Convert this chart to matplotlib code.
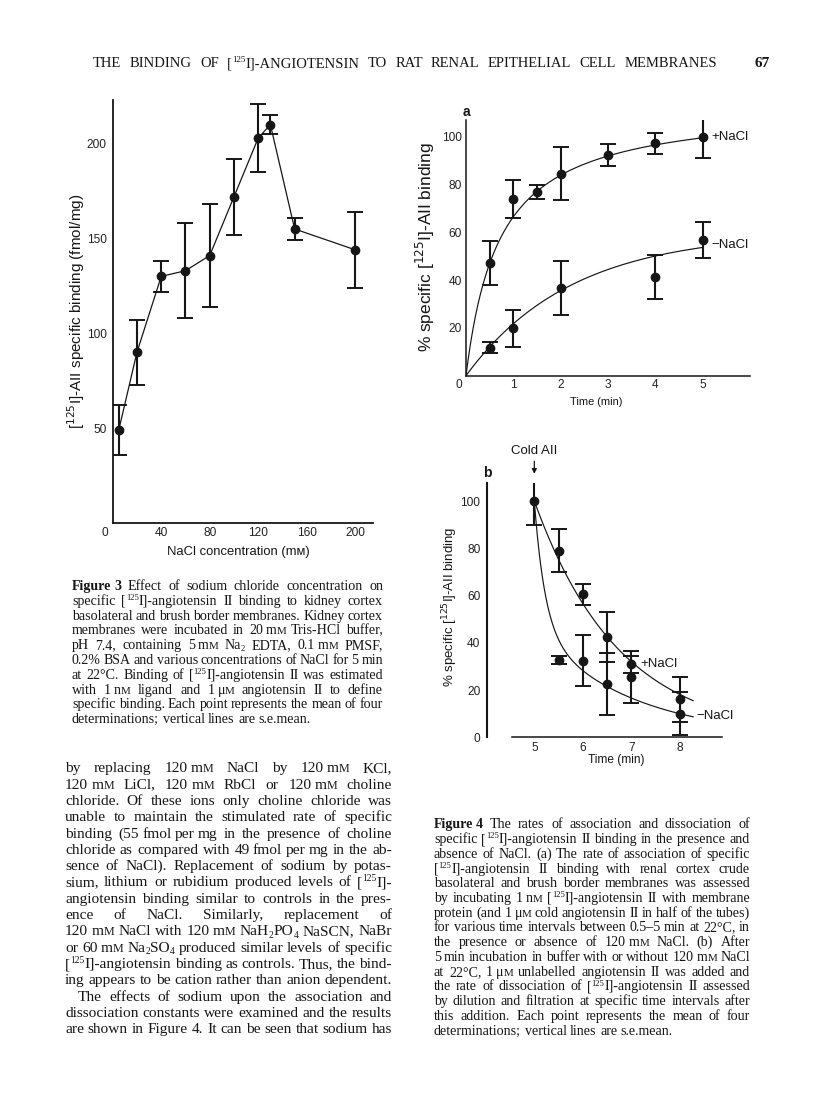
import re
import numpy as np
import matplotlib
matplotlib.use("Agg")
import matplotlib.pyplot as plt

# ---------------- data ----------------
# Figure 3: specific binding vs NaCl concentration
nacl_mM = [5, 20, 40, 60, 80, 100, 120, 130, 150, 200]
spec_binding = [49, 90, 130, 133, 141, 172, 203, 210, 155, 144]
spec_binding_sem = [13, 17, 8, 25, 27, 20, 18, 5, 6, 20]
fig3_xticks = [40, 80, 120, 160, 200]
fig3_yticks = [50, 100, 150, 200]

# Figure 4a: association
assoc_t_plus = [0.5, 1, 1.5, 2, 3, 4, 5]
assoc_plus = [47, 74, 77, 84.5, 92.3, 97.2, 100]
assoc_plus_sem = [9.2, 7.8, 3.0, 11.0, 4.7, 4.5, 9.0]
assoc_t_minus = [0.5, 1, 2, 4, 5]
assoc_minus = [11.7, 19.8, 36.6, 41.4, 56.8]
assoc_minus_sem = [2.4, 7.9, 11.3, 9.2, 7.6]
fig4a_xticks = [1, 2, 3, 4, 5]
fig4a_yticks = [20, 40, 60, 80, 100]

# Figure 4b: dissociation
diss_t_plus = [5, 5.5, 6, 6.5, 7, 8]
diss_plus = [100, 79, 60.5, 42.5, 31, 16]
diss_plus_sem = [10, 9, 4.5, 10.5, 3.6, 9.5]
diss_t_minus = [5.5, 6, 6.5, 7, 8]
diss_minus = [32.7, 32.5, 22.6, 25.7, 10]
diss_minus_sem = [1.7, 10.6, 13.2, 11, 9]
fig4b_xticks = [5, 6, 7, 8]
fig4b_yticks = [0, 20, 40, 60, 80, 100]

# fitted-curve parameters (as drawn in the original)
fit_assoc_plus = dict(bmax=113.7, kd=0.71)     # hyperbolic
fit_assoc_minus = dict(bmax=60.0, k=0.45)      # mono-exponential
fit_diss_plus = dict(k=0.57)                   # mono-exponential decay
fit_diss_minus = dict(a_fast=54.0, k_fast=4.5, a_slow=46.0, k_slow=0.51)

# ---------------- text ----------------
# markup: @word = bold, ~ = thin fixed space, {M} = small-capital M,
#         ^{..} = superscript, _{..} = subscript
header = "THE BINDING OF [^{125}I]-ANGIOTENSIN TO RAT RENAL EPITHELIAL CELL MEMBRANES"
page_no = "67"

caption3 = [
    "@Figure~3 Effect of sodium chloride concentration on",
    "specific [^{125}I]-angiotensin II binding to kidney cortex",
    "basolateral and brush border membranes. Kidney cortex",
    "membranes were incubated in 20~m{M} Tris-HCl buffer,",
    "pH 7.4, containing 5~m{M} Na_{2} EDTA, 0.1~m{M} PMSF,",
    "0.2% BSA and various concentrations of NaCl for 5~min",
    "at 22°C. Binding of [^{125}I]-angiotensin II was estimated",
    "with 1~n{M} ligand and 1~μ{M} angiotensin II to define",
    "specific binding. Each point represents the mean of four",
    "determinations; vertical lines are s.e.mean.",
]

body = [
    "by replacing 120~m{M} NaCl by 120~m{M} KCl,",
    "120~m{M} LiCl, 120~m{M} RbCl or 120~m{M} choline",
    "chloride. Of these ions only choline chloride was",
    "unable to maintain the stimulated rate of specific",
    "binding (55~fmol~per~mg in the presence of choline",
    "chloride as compared with 49~fmol~per~mg in the ab-",
    "sence of NaCl). Replacement of sodium by potas-",
    "sium, lithium or rubidium produced levels of [^{125}I]-",
    "angiotensin binding similar to controls in the pres-",
    "ence of NaCl. Similarly, replacement of",
    "120~m{M} NaCl with 120~m{M} NaH_{2}PO_{4} NaSCN, NaBr",
    "or 60~m{M} Na_{2}SO_{4} produced similar levels of specific",
    "[^{125}I]-angiotensin binding as controls. Thus, the bind-",
    "ing appears to be cation rather than anion dependent.",
    "The effects of sodium upon the association and",
    "dissociation constants were examined and the results",
    "are shown in Figure 4. It can be seen that sodium has",
]

caption4 = [
    "@Figure~4 The rates of association and dissociation of",
    "specific [^{125}I]-angiotensin II binding in the presence and",
    "absence of NaCl. (a) The rate of association of specific",
    "[^{125}I]-angiotensin II binding with renal cortex crude",
    "basolateral and brush border membranes was assessed",
    "by incubating 1~n{M} [^{125}I]-angiotensin II with membrane",
    "protein (and 1~μ{M} cold angiotensin II in half of the tubes)",
    "for various time intervals between 0.5–5~min at 22°C, in",
    "the presence or absence of 120~m{M} NaCl. (b) After",
    "5~min incubation in buffer with or without 120~m{M} NaCl",
    "at 22°C, 1~μ{M} unlabelled angiotensin II was added and",
    "the rate of dissociation of [^{125}I]-angiotensin II assessed",
    "by dilution and filtration at specific time intervals after",
    "this addition. Each point represents the mean of four",
    "determinations; vertical lines are s.e.mean.",
]

# ---------------- figure ----------------
W, H = 816, 1113
INK = "#161616"
PXPT = 100 / 72
SERIF = "Liberation Serif"
plt.rcParams["font.family"] = ["Liberation Sans", "DejaVu Sans"]

fig = plt.figure(figsize=(W / 100, H / 100), dpi=100)
fig.patch.set_facecolor("white")
renderer = fig.canvas.get_renderer()


def axes_px(l, r, t, b):
    return fig.add_axes([l / W, 1 - b / H, (r - l) / W, (b - t) / H])


TOKEN_RE = re.compile(r"(\{M\}|\^\{[^}]*\}|_\{[^}]*\})")
_adv_cache = {}


def _ink_width(s, size, weight):
    t = fig.text(0, 0, s, fontsize=size, family=SERIF, weight=weight)
    w = t.get_window_extent(renderer).width
    t.remove()
    return w


def advance(s, size, weight):
    """Typographic advance width of s in pixels (pen-to-pen)."""
    key = (s, round(size, 3), weight)
    if key not in _adv_cache:
        _adv_cache[key] = (_ink_width("|" + s + "|", size, weight)
                           - _ink_width("||", size, weight))
    return _adv_cache[key]


def make_segments(word):
    """Return (bold, [(text or None, size_scale, dy_em), ...])."""
    bold = word.startswith("@")
    if bold:
        word = word[1:]
    segs = []
    for j, sub in enumerate(word.split("~")):
        if j > 0:
            segs.append((None, 0.2, 0.0))
        for part in TOKEN_RE.split(sub):
            if not part:
                continue
            if part == "{M}":
                segs.append(("M", 0.78, 0.0))
            elif part.startswith("^{"):
                segs.append((part[2:-1], 0.62, 0.34))
            elif part.startswith("_{"):
                segs.append((part[2:-1], 0.62, -0.16))
            else:
                segs.append((part, 1.0, 0.0))
    return bold, segs


def layout_line(line, x0, x1, yb, size, justify=True, indent=0.0):
    words = line.split()
    while True:
        measured = []
        total = 0.0
        for w in words:
            bold, segs = make_segments(w)
            weight = "bold" if bold else "normal"
            pieces = []
            ww = 0.0
            for s, sc, dy in segs:
                if s is None:
                    g = sc * size * PXPT
                    pieces.append((None, g, 0.0, 0.0, weight))
                else:
                    g = advance(s, size * sc, weight)
                    pieces.append((s, g, dy * size * PXPT, size * sc, weight))
                ww += g
            measured.append((pieces, ww))
            total += ww
        n = len(measured)
        natural = 0.25 * size * PXPT
        avail = x1 - x0 - indent
        gap = (avail - total) / (n - 1) if (justify and n > 1) else natural
        if (not justify) or gap >= 0.15 * size * PXPT:
            break
        size *= 0.98
    x = x0 + indent
    for pieces, ww in measured:
        xx = x
        for s, g, dypx, fs, weight in pieces:
            if s is not None:
                fig.text(xx / W, 1 - (yb - dypx) / H, s, fontsize=fs, family=SERIF,
                         weight=weight, va="baseline", ha="left", color=INK)
            xx += g
        x += ww + gap


def fit_label(label, target_px, vertical):
    bb = label.get_window_extent(renderer)
    L = bb.height if vertical else bb.width
    label.set_fontsize(label.get_fontsize() * target_px / L)


TICK_FS = 8.6


def style(ax, lw=1.1):
    for s in ["top", "right"]:
        ax.spines[s].set_visible(False)
    for s in ["left", "bottom"]:
        ax.spines[s].set_linewidth(lw)
        ax.spines[s].set_color(INK)
    ax.tick_params(length=0, labelsize=TICK_FS, colors="#222222")


eb_kw = dict(color=INK, ms=6.0, elinewidth=1.5, capsize=5.5, capthick=1.4, mec=INK, mfc=INK)

# ---------- Figure 3 ----------
ax3 = axes_px(112.7, 373, 100, 523)
style(ax3, 1.3)
ax3.errorbar(nacl_mM, spec_binding, yerr=spec_binding_sem, fmt="-o", lw=0.9, **eb_kw)
ax3.set_xlim(0, 214.6)
ax3.set_ylim(0, 223)
ax3.set_xticks(fig3_xticks)
ax3.set_yticks(fig3_yticks)
ax3.tick_params(axis="x", pad=3)
ax3.tick_params(axis="y", pad=4.3)
ax3.annotate("0", xy=(0, 0), xytext=(-5.5, -7.0), textcoords="offset points",
             ha="center", va="center", fontsize=TICK_FS, color="#222222", annotation_clip=False)
ax3.set_ylabel("[$^{125}$I]-AII specific binding (fmol/mg)", fontsize=10, color=INK)
ax3.set_xlabel("NaCl concentration (mᴍ)", fontsize=9, color=INK)
fit_label(ax3.yaxis.label, 235, True)
fit_label(ax3.xaxis.label, 143, False)
ax3.yaxis.set_label_coords((87 - 112.7) / 260.3, 0.5)
ax3.xaxis.set_label_coords((238 - 112.7) / 260.3, (523 - 546) / 423)

# ---------- Figure 4a ----------
ax4a = axes_px(466, 750, 120, 375.7)
style(ax4a, 1.1)
ta = np.linspace(0, 5, 300)
ax4a.plot(ta, fit_assoc_plus["bmax"] * ta / (fit_assoc_plus["kd"] + ta), color=INK, lw=0.85)
ax4a.plot(ta, fit_assoc_minus["bmax"] * (1 - np.exp(-fit_assoc_minus["k"] * ta)), color=INK, lw=0.85)
ax4a.errorbar(assoc_t_plus, assoc_plus, yerr=assoc_plus_sem, fmt="o", **eb_kw)
ax4a.errorbar(assoc_t_minus, assoc_minus, yerr=assoc_minus_sem, fmt="o", **eb_kw)
ax4a.set_xlim(0, 6)
ax4a.set_ylim(0, 107)
ax4a.set_xticks(fig4a_xticks)
ax4a.set_yticks(fig4a_yticks)
ax4a.tick_params(axis="x", pad=2.7)
ax4a.tick_params(axis="y", pad=3)
ax4a.annotate("0", xy=(0, 0), xytext=(-5.5, -7.0), textcoords="offset points",
              ha="center", va="center", fontsize=TICK_FS, color="#222222", annotation_clip=False)
ax4a.text(5.18, 100, "+NaCl", ha="left", va="center", fontsize=9.5, color=INK)
ax4a.text(5.18, 54.7, "−NaCl", ha="left", va="center", fontsize=9.5, color=INK)
ax4a.text(0, 1.032, "a", transform=ax4a.transAxes, ha="center", va="center",
          fontsize=10, weight="bold", color=INK)
ax4a.set_ylabel("% specific [$^{125}$I]-AII binding", fontsize=10, color=INK)
ax4a.set_xlabel("Time (min)", fontsize=9, color=INK)
fit_label(ax4a.yaxis.label, 210, True)
fit_label(ax4a.xaxis.label, 52, False)
ax4a.yaxis.set_label_coords((437 - 466) / 284, (375.7 - 247) / 255.7)
ax4a.xaxis.set_label_coords((596.7 - 466) / 284, (375.7 - 397) / 255.7)

# ---------- Figure 4b ----------
ax4b = axes_px(487.3, 721.7, 483.3, 737.3)
style(ax4b, 1.1)
ax4b.spines["left"].set_linewidth(1.5)
td = np.linspace(5, 8.27, 300)
dt = td - 5
ax4b.plot(td, 100 * np.exp(-fit_diss_plus["k"] * dt), color=INK, lw=0.85)
ax4b.plot(td, fit_diss_minus["a_fast"] * np.exp(-fit_diss_minus["k_fast"] * dt)
          + fit_diss_minus["a_slow"] * np.exp(-fit_diss_minus["k_slow"] * dt), color=INK, lw=0.85)
ax4b.errorbar(diss_t_plus, diss_plus, yerr=diss_plus_sem, fmt="o", **eb_kw)
ax4b.errorbar(diss_t_minus, diss_minus, yerr=diss_minus_sem, fmt="o", **eb_kw)
ax4b.set_xlim(4.032, 8.858)
ax4b.set_ylim(0, 107.5)
ax4b.spines["bottom"].set_bounds(4.535, 8.858)
ax4b.set_xticks(fig4b_xticks)
ax4b.set_yticks(fig4b_yticks)
ax4b.tick_params(axis="x", pad=3.3)
ax4b.tick_params(axis="y", pad=5)
ax4b.text(7.18, 30.9, "+NaCl", ha="left", va="center", fontsize=9.5, color=INK)
ax4b.text(8.33, 9.0, "−NaCl", ha="left", va="center", fontsize=9.5, color=INK)
ax4b.text(0, 1.04, "b", transform=ax4b.transAxes, ha="center", va="center",
          fontsize=10, weight="bold", color=INK)
ax4b.annotate("Cold AII", xy=(5, 111.5), xytext=(0, 12), textcoords="offset points",
              ha="center", va="bottom", fontsize=9.5, color=INK, annotation_clip=False,
              arrowprops=dict(arrowstyle="-|>", lw=0.9, color=INK, shrinkA=1, shrinkB=0,
                              mutation_scale=7))
ax4b.set_ylabel("% specific [$^{125}$I]-AII binding", fontsize=10, color=INK)
ax4b.set_xlabel("Time (min)", fontsize=9, color=INK)
fit_label(ax4b.yaxis.label, 160, True)
fit_label(ax4b.xaxis.label, 56, False)
ax4b.yaxis.set_label_coords((460 - 487.3) / 234.4, (737.3 - 607) / 254)
ax4b.xaxis.set_label_coords((616.7 - 487.3) / 234.4, (737.3 - 753.5) / 254)

# ---------- page text ----------
layout_line(header, 93, 717, 67, 10.5)
fig.text(770 / W, 1 - 67 / H, page_no, ha="right", va="baseline", fontsize=11,
         weight="bold", family=SERIF, color=INK)

for i, line in enumerate(caption3):
    last = i == len(caption3) - 1
    layout_line(line, 72, 383, 586 + 4 + i * 14.8, 10.1, justify=not last)

for i, line in enumerate(body):
    indent = 13 if line.startswith("The effects") else 0
    layout_line(line, 65, 392, 768.3 + 4 + i * 16.31, 11.1, indent=indent)

for i, line in enumerate(caption4):
    last = i == len(caption4) - 1
    layout_line(line, 434, 750, 824.3 + 4 + i * 14.74, 10.1, justify=not last)

fig.savefig("out.png", dpi=100, facecolor="white")
